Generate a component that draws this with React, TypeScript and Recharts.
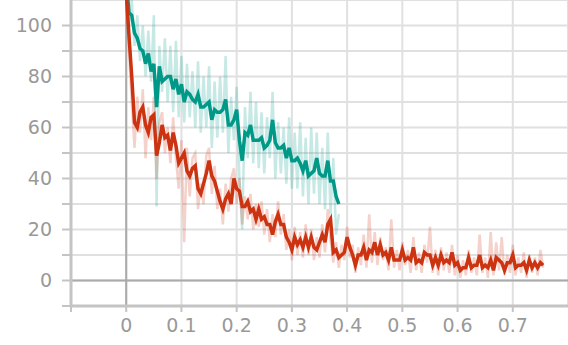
import * as React from "react"
import { LineChart, Line, XAxis, YAxis, CartesianGrid, ReferenceLine } from "recharts"

// both runs were logged every 0.005 steps
const STEP = 0.005

const xTicks = [-0.1, 0, 0.1, 0.2, 0.3, 0.4, 0.5, 0.6, 0.7]
const yTicks = [-10, 0, 10, 20, 30, 40, 50, 60, 70, 80, 90, 100]

// red run: raw values
const redRaw = [
  112, 90, 70, 52, 72, 58, 75, 48, 68, 55,
  72, 40, 62, 66, 50, 60, 46, 64, 48, 36,
  55, 15, 52, 33, 48, 50, 28, 38, 30, 49,
  52, 34, 45, 28, 36, 22, 38, 27, 40, 44,
  30, 40, 22, 33, 24, 34, 20, 30, 21, 31,
  18, 28, 15, 26, 17, 31, 18, 26, 12, 20,
  8, 21, 10, 19, 9, 22, 10, 20, 8, 17,
  9, 22, 11, 28, 16, 7, 15, 5, 14, 8,
  21, 9, 14, 3, 13, 6, 18, 5, 26, 7,
  19, 6, 17, 8, 13, 4, 24, 5, 12, 4,
  15, 6, 12, 3, 17, 4, 11, 3, 14, 7,
  21, 3, 12, 2, 13, 4, 11, 3, 14, 2,
  10, 1, 8, 2, 12, 3, 9, 2, 18, 3,
  9, 1, 19, 2, 15, 4, 17, 2, 10, 3,
  14, 2, 9, 3, 11, 1, 10, 3, 9, 2,
  12, 5,
]

// red run: smoothed values
const redSmooth = [
  113, 96, 80, 62, 60, 66, 68, 61, 58, 64,
  65, 49, 54, 61, 56, 57, 51, 58, 53, 46,
  48, 50, 43, 41, 44, 45, 36, 34, 38, 42,
  47, 41, 39, 35, 31, 28, 32, 34, 30, 40,
  36, 35, 29, 29, 31, 27, 28, 24, 28, 24,
  25, 22, 22, 18, 23, 26, 22, 22, 17, 15,
  12, 17, 14, 16, 13, 17, 13, 17, 13, 12,
  15, 18, 15, 22, 24, 11, 12, 9, 10, 11,
  17, 13, 10, 6, 10, 10, 13, 8, 12, 11,
  15, 10, 14, 10, 11, 8, 13, 8, 8, 8,
  12, 8, 9, 8, 13, 7, 8, 7, 11, 10,
  10, 6, 9, 6, 10, 7, 8, 7, 11, 6,
  7, 4, 5, 5, 9, 5, 6, 6, 10, 5,
  6, 5, 8, 4, 9, 8, 7, 4, 7, 7,
  10, 5, 6, 6, 7, 4, 8, 5, 7, 5,
  7, 6,
]

// teal run: raw values
const tealRaw = [
  118, 100, 110, 92, 104, 86, 100, 80, 98, 78,
  104, 29, 92, 74, 95, 70, 92, 66, 94, 64,
  88, 62, 85, 64, 82, 60, 86, 58, 80, 60,
  84, 52, 78, 56, 80, 58, 88, 50, 72, 55,
  76, 40, 20, 68, 48, 74, 46, 70, 44, 66,
  42, 64, 48, 74, 40, 62, 42, 60, 38, 64,
  36, 58, 36, 62, 33, 56, 30, 60, 34, 58,
  30, 52, 28, 58, 26, 48, 18, 26,
]

// teal run: smoothed values
const tealSmooth = [
  118, 105, 104, 97, 95, 91, 90, 85, 89, 82,
  85, 68, 84, 78, 79, 80, 80, 75, 79, 73,
  77, 70, 74, 73, 71, 70, 73, 68, 68, 69,
  70, 63, 67, 66, 66, 67, 71, 61, 61, 63,
  67, 55, 47, 58, 57, 61, 55, 55, 55, 56,
  52, 53, 55, 63, 54, 52, 52, 53, 48, 52,
  47, 47, 48, 46, 43, 47, 41, 42, 43, 48,
  42, 41, 41, 47, 39, 39, 33, 30,
]

const toPoints = (values: number[]) =>
  values.map((y, i) => ({ x: +(i * STEP).toFixed(3), y }))

const RED = "#cc3311"
const TEAL = "#009988"
const tickStyle = { fill: "#999", fontSize: 19, fontFamily: "DejaVu Sans" }

export default function App() {
  return (
    <div style={{ position: "absolute", left: 0, top: 0 }}>
      <LineChart width={568} height={345} margin={{ top: 0, right: 0, bottom: 0, left: 0 }}>
        <CartesianGrid stroke="#e0e0e0" strokeWidth={2} />
        <XAxis
          type="number"
          dataKey="x"
          domain={[-0.1, 0.8]}
          ticks={xTicks}
          allowDataOverflow
          height={39}
          tick={tickStyle}
          tickSize={6}
          tickMargin={7}
          tickFormatter={(v: number) => (v < 0 ? "" : String(v))}
          axisLine={{ stroke: "#c4c4c4", strokeWidth: 3 }}
          tickLine={{ stroke: "#c4c4c4", strokeWidth: 2 }}
        />
        <YAxis
          type="number"
          domain={[-10, 110]}
          ticks={yTicks}
          allowDataOverflow
          width={71}
          tick={tickStyle}
          tickSize={9}
          tickMargin={10}
          tickFormatter={(v: number) => (v >= 0 && v % 20 === 0 ? String(v) : "")}
          axisLine={{ stroke: "#c4c4c4", strokeWidth: 3 }}
          tickLine={{ stroke: "#c4c4c4", strokeWidth: 2 }}
        />
        <ReferenceLine y={0} stroke="#aaa" strokeWidth={2} />
        <ReferenceLine x={0} stroke="#aaa" strokeWidth={2} />
        <Line data={toPoints(tealRaw)} dataKey="y" stroke={TEAL} strokeOpacity={0.22} strokeWidth={2.5} dot={false} isAnimationActive={false} />
        <Line data={toPoints(redRaw)} dataKey="y" stroke={RED} strokeOpacity={0.22} strokeWidth={2.5} dot={false} isAnimationActive={false} />
        <Line data={toPoints(tealSmooth)} dataKey="y" stroke={TEAL} strokeWidth={3.5} dot={false} isAnimationActive={false} />
        <Line data={toPoints(redSmooth)} dataKey="y" stroke={RED} strokeWidth={3.5} dot={false} isAnimationActive={false} />
      </LineChart>
    </div>
  )
}
